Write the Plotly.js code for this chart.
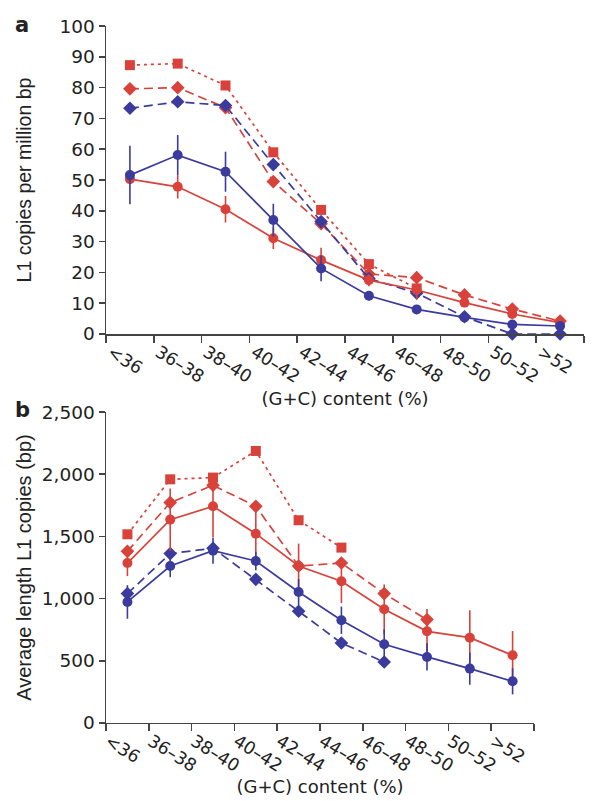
<!DOCTYPE html>
<html>
<head>
<meta charset="utf-8">
<script src="https://cdn.plot.ly/plotly-3.0.1.min.js"></script>
<style>html,body{margin:0;padding:0;background:#fff;}#chart{width:600px;height:801px;}</style>
</head>
<body>
<div id="chart"></div>
<script>
// Categories (G+C content %)
const categories = ['<36','36–38','38–40','40–42','42–44','44–46','46–48','48–50','50–52','>52'];

// Panel a: L1 copies per million bp
const aRedSquare  = [87.3, 87.8, 80.7, 59.0, 40.3, 22.7, 14.8, null, null, null];
const aRedDiamond = [79.6, 80.0, 73.5, 49.5, 35.8, 19.5, 18.3, 12.7, 8.1, 4.2];
const aBlueDiamond= [73.3, 75.4, 74.2, 55.0, 36.5, 18.0, 13.3, 5.6, 0, 0];
const aBlueCircle = [51.6, 58.1, 52.7, 37.0, 21.3, 12.4, 8.0, 5.4, 3.1, 2.6];
const aBlueErr    = [9.5, 6.5, 6.5, 5.3, 4.2, 1.5, 1.2, 0.8, 0.6, 0.5];
const aRedCircle  = [50.3, 47.8, 40.5, 31.1, 24.0, 17.5, 14.3, 10.2, 6.5, 3.7];
const aRedErr     = [1.5, 3.8, 4.3, 3.5, 4.0, 2.0, 3.0, 1.5, 1.0, 0.8];

// Panel b: Average length of L1 copies (bp)
const bRedSquare  = [1517, 1959, 1973, 2187, 1630, 1410, null, null, null, null];
const bRedDiamond = [1380, 1772, 1911, 1742, 1262, 1286, 1040, 831, null, null];
const bRedCircle  = [1286, 1635, 1742, 1522, 1262, 1139, 914, 737, 686, 544];
const bRedErr     = [105, 250, 250, 190, 180, 175, 200, 180, 220, 195];
const bBlueDiamond= [1040, 1362, 1405, 1155, 898, 643, 490, null, null, null];
const bBlueCircle = [973, 1262, 1385, 1302, 1053, 826, 633, 531, 437, 335];
const bBlueErr    = [135, 90, 105, 75, 105, 110, 120, 110, 130, 105];

const yTicksA = [0,10,20,30,40,50,60,70,80,90,100];
const yTicksB = [0,500,1000,1500,2000,2500];

const RED = '#d9423a';
const BLUE = '#3b3b9e';
const WIDE = 'DejaVu Sans, Verdana, sans-serif';
const NARROW = 'Liberation Sans, Arial, Helvetica, sans-serif';
const TXT = '#222';

function tr(xa, ya, y, color, dash, symbol, size, err) {
  const t = {
    x: categories, y: y, xaxis: xa, yaxis: ya, type: 'scatter', mode: 'lines+markers',
    line: {color: color, width: 1.7, dash: dash},
    marker: {color: color, symbol: symbol, size: size},
    cliponaxis: false, connectgaps: false, hoverinfo: 'skip'
  };
  if (err) t.error_y = {type: 'data', array: err, visible: true, color: color, thickness: 1.6, width: 0};
  return t;
}

const data = [
  tr('x','y', aRedSquare, RED, '3px,4px', 'square', 10),
  tr('x','y', aRedDiamond, RED, '9px,5px', 'diamond', 10.5),
  tr('x','y', aBlueDiamond, BLUE, '9px,5px', 'diamond', 10.5),
  tr('x','y', aRedCircle, RED, 'solid', 'circle', 10, aRedErr),
  tr('x','y', aBlueCircle, BLUE, 'solid', 'circle', 10, aBlueErr),
  tr('x2','y2', bRedSquare, RED, '3px,4px', 'square', 10),
  tr('x2','y2', bRedDiamond, RED, '9px,5px', 'diamond', 10.5),
  tr('x2','y2', bBlueDiamond, BLUE, '9px,5px', 'diamond', 10.5),
  tr('x2','y2', bRedCircle, RED, 'solid', 'circle', 10, bRedErr),
  tr('x2','y2', bBlueCircle, BLUE, 'solid', 'circle', 10, bBlueErr)
];

const axCommon = {
  showline: true, linecolor: '#444', linewidth: 1.5, showgrid: false, zeroline: false,
  ticks: 'outside', ticklen: 6, tickwidth: 1.5, tickcolor: '#444',
  tickfont: {family: WIDE, size: 18.5, color: TXT}
};
const xCommon = Object.assign({}, axCommon, {
  type: 'category', range: [-0.5, 9.5], tickson: 'boundaries', tickangle: 32,
  ticklabelshift: -19, ticklen: 7, tickfont: {family: WIDE, size: 17.5, color: TXT}
});

const layout = {
  width: 600, height: 801, margin: {l: 0, r: 0, t: 0, b: 0},
  paper_bgcolor: '#fff', plot_bgcolor: '#fff', showlegend: false,
  font: {family: WIDE, color: TXT},
  xaxis: Object.assign({}, xCommon, {domain: [0.1767, 0.9733], anchor: 'y',
    title: {text: '(G+C) content (%)', font: {family: WIDE, size: 18, color: TXT}, standoff: 6}}),
  yaxis: Object.assign({}, axCommon, {domain: [0.5830, 0.9675], anchor: 'x', range: [0, 100],
    tickvals: yTicksA,
    title: {text: 'L1 copies per million bp', font: {family: NARROW, size: 19.5, color: TXT}, standoff: 22}}),
  xaxis2: Object.assign({}, xCommon, {domain: [0.1767, 0.89], anchor: 'y2',
    title: {text: '(G+C) content (%)', font: {family: WIDE, size: 18, color: TXT}, standoff: 2}}),
  yaxis2: Object.assign({}, axCommon, {domain: [0.0974, 0.4856], anchor: 'x2', range: [0, 2500],
    tickvals: yTicksB, tickformat: ',',
    title: {text: 'Average length L1 copies (bp)', font: {family: NARROW, size: 20, color: TXT}, standoff: 5}}),
  annotations: [
    {text: '<b>a</b>', xref: 'paper', yref: 'paper', x: 13/600, y: 1 - 25/801, xanchor: 'left', yanchor: 'middle',
     showarrow: false, font: {family: WIDE, size: 21, color: TXT}},
    {text: '<b>b</b>', xref: 'paper', yref: 'paper', x: 13/600, y: 1 - 410/801, xanchor: 'left', yanchor: 'middle',
     showarrow: false, font: {family: WIDE, size: 21, color: TXT}}
  ]
};

Plotly.newPlot('chart', data, layout, {displayModeBar: false, staticPlot: true});
</script>
</body>
</html>
